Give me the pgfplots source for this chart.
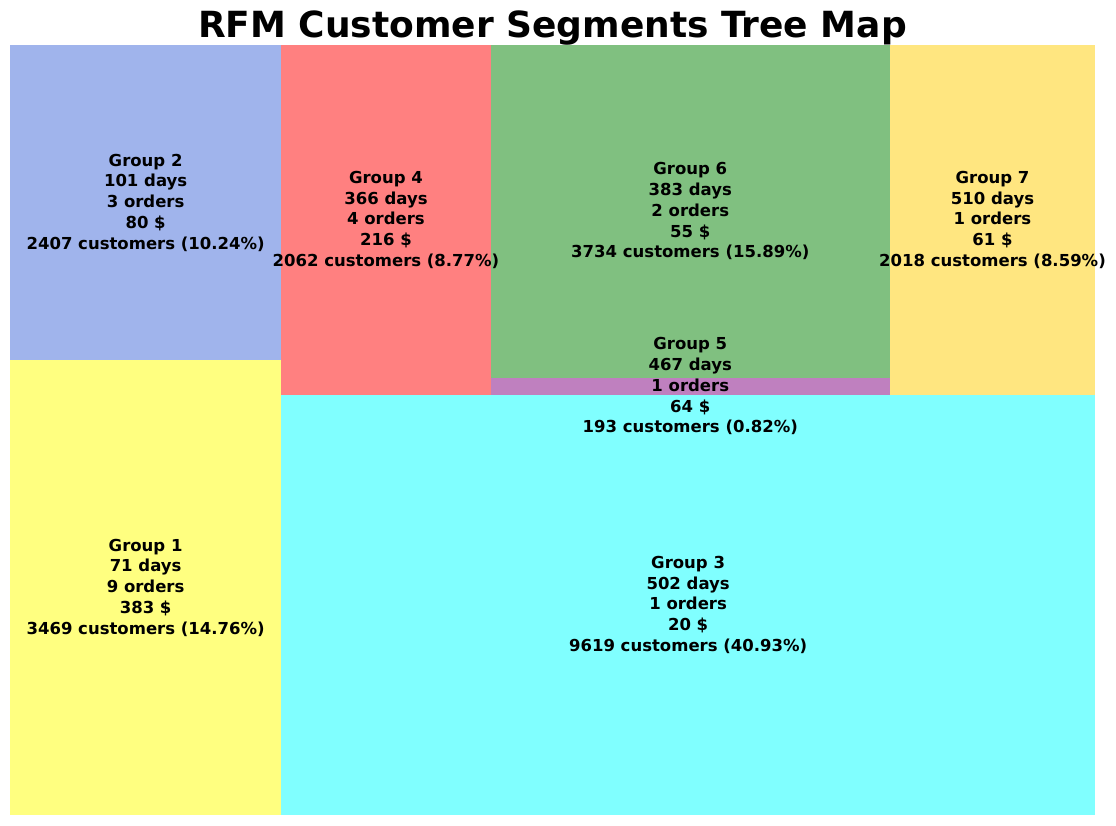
\documentclass[border=0pt]{standalone}
\usepackage{pgfplots}
\pgfplotsset{compat=1.18}
\usepackage{fontspec}
\setmainfont{DejaVu Sans}
\definecolor{c1}{HTML}{FFFF80}
\definecolor{c2}{HTML}{A0B4EC}
\definecolor{c3}{HTML}{80FFFF}
\definecolor{c4}{HTML}{FF8080}
\definecolor{c5}{HTML}{BF80BF}
\definecolor{c6}{HTML}{80C080}
\definecolor{c7}{HTML}{FFE680}
\begin{document}
\begin{tikzpicture}
\begin{axis}[scale only axis, width=1085pt, height=770pt, xmin=0, xmax=100, ymin=0, ymax=100,
  axis lines=none, ticks=none, clip=false,
  title={\fontsize{36}{42}\selectfont\bfseries RFM Customer Segments Tree Map},
  title style={yshift=-10pt},
  nodes={font=\fontsize{16.5}{20.8}\selectfont\bfseries, align=center}]
\addplot[fill=c1, draw=none] coordinates {(0,0)(25,0)(25,59.04)(0,59.04)} -- cycle;
\addplot[fill=c2, draw=none] coordinates {(0,59.04)(25,59.04)(25,100)(0,100)} -- cycle;
\addplot[fill=c3, draw=none] coordinates {(25,0)(100,0)(100,54.57)(25,54.57)} -- cycle;
\addplot[fill=c4, draw=none] coordinates {(25,54.57)(44.30,54.57)(44.30,100)(25,100)} -- cycle;
\addplot[fill=c5, draw=none] coordinates {(44.30,54.57)(81.09,54.57)(81.09,56.80)(44.30,56.80)} -- cycle;
\addplot[fill=c6, draw=none] coordinates {(44.30,56.80)(81.09,56.80)(81.09,100)(44.30,100)} -- cycle;
\addplot[fill=c7, draw=none] coordinates {(81.09,54.57)(100,54.57)(100,100)(81.09,100)} -- cycle;
\node at (axis cs:12.5,29.52) {Group 1\\71 days\\9 orders\\383 \$\\3469 customers (14.76\%)};
\node at (axis cs:12.5,79.52) {Group 2\\101 days\\3 orders\\80 \$\\2407 customers (10.24\%)};
\node at (axis cs:62.5,27.28) {Group 3\\502 days\\1 orders\\20 \$\\9619 customers (40.93\%)};
\node at (axis cs:34.65,77.28) {Group 4\\366 days\\4 orders\\216 \$\\2062 customers (8.77\%)};
\node at (axis cs:62.7,55.68) {Group 5\\467 days\\1 orders\\64 \$\\193 customers (0.82\%)};
\node at (axis cs:62.7,78.4) {Group 6\\383 days\\2 orders\\55 \$\\3734 customers (15.89\%)};
\node at (axis cs:90.55,77.28) {Group 7\\510 days\\1 orders\\61 \$\\2018 customers (8.59\%)};
\end{axis}
\path (-10pt,-10pt) rectangle (1106pt,815pt);
\end{tikzpicture}
\end{document}
